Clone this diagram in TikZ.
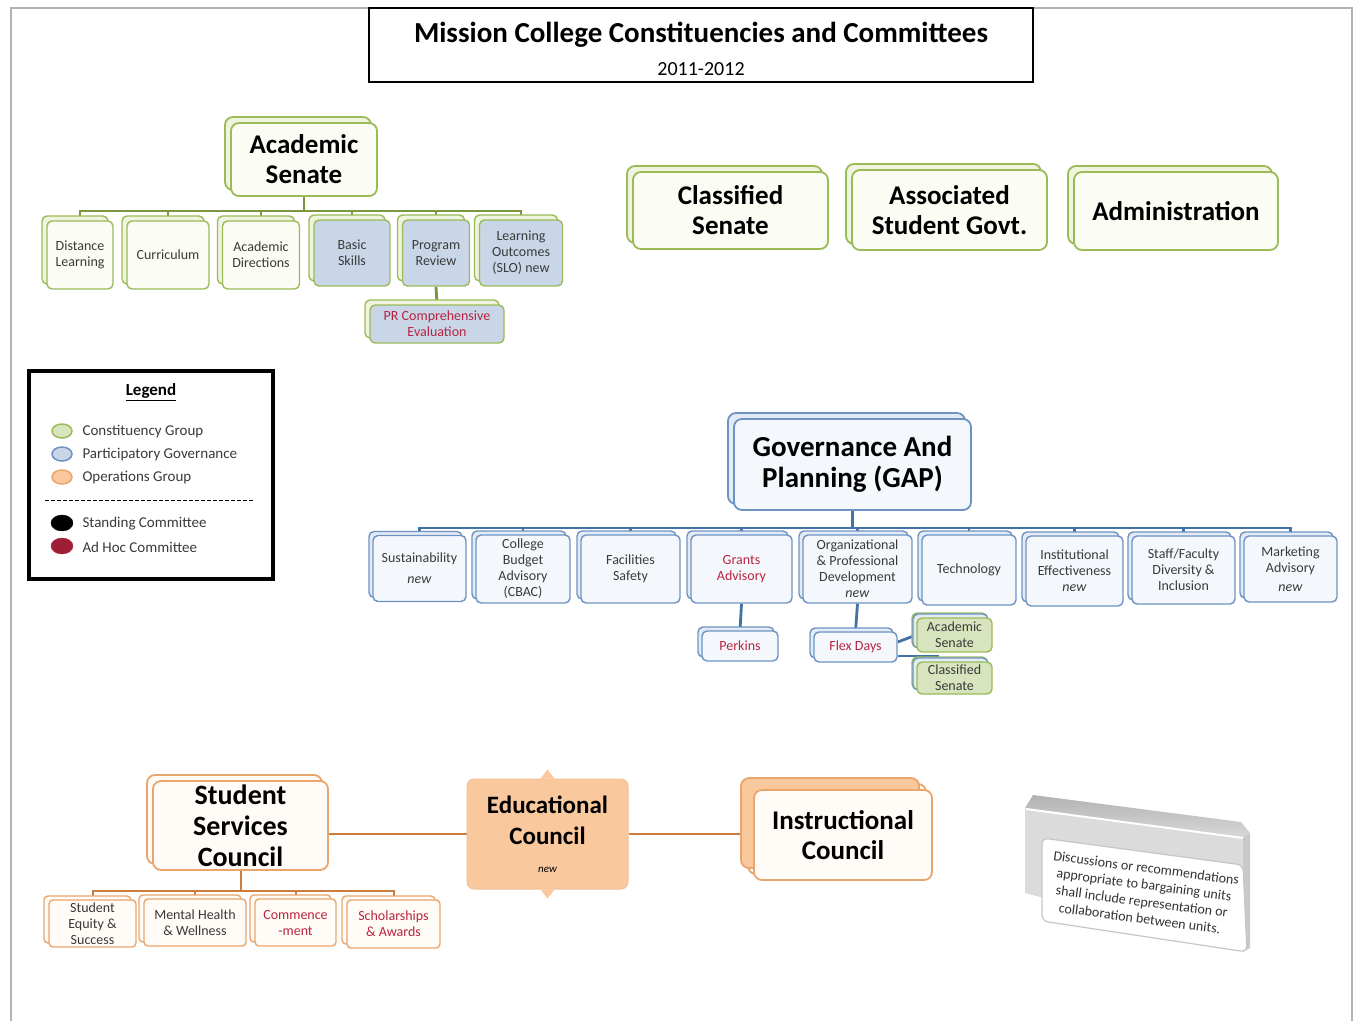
\documentclass[tikz,border=0pt]{standalone}
\usepackage{fontspec}
\setmainfont{Carlito}
\usetikzlibrary{shadows, backgrounds}
\definecolor{constgreen}{HTML}{9BBB59}
\definecolor{constline}{HTML}{7A963E}
\definecolor{constfill}{HTML}{FBFCF4}
\definecolor{constback}{HTML}{EEF4DE}
\definecolor{senatefill}{HTML}{D7E4BD}
\definecolor{govblue}{HTML}{6E93C2}
\definecolor{govline}{HTML}{4372A6}
\definecolor{govfill}{HTML}{F4F8FC}
\definecolor{govback}{HTML}{E3ECF6}
\definecolor{skillfill}{HTML}{C8D6E7}
\definecolor{opsorange}{HTML}{E9A66C}
\definecolor{opsline}{HTML}{CC7C3C}
\definecolor{opsfill}{HTML}{FFFBF6}
\definecolor{opspeach}{HTML}{FAC89D}
\definecolor{adhocred}{HTML}{B8243F}
\definecolor{inktext}{HTML}{3A3A3A}

\newcommand{\titlefont}{\fontsize{29}{32}\selectfont\bfseries}
\newcommand{\bigunitfont}{\fontsize{27}{30}\selectfont\bfseries}
\newcommand{\subunitfont}{\fontsize{14}{16}\selectfont}
\newcommand{\legendfont}{\fontsize{15}{18}\selectfont}

\tikzset{
  unit/.style={draw, align=center, inner sep=1pt, text=black},
  % constituency groups (green)
  constgroup/.style={unit, rounded corners=8pt, draw=constgreen, line width=1.8pt, fill=constfill,
    font=\bigunitfont,
    copy shadow={shadow xshift=-6pt, shadow yshift=6pt, draw=constgreen, line width=1.8pt, fill=constback}},
  constsub/.style={unit, rounded corners=5pt, draw=constgreen, line width=1.4pt, fill=constfill,
    font=\subunitfont, text=inktext,
    copy shadow={shadow xshift=-5pt, shadow yshift=5pt, draw=constgreen, line width=1.4pt, fill=constback}},
  skillsub/.style={constsub, fill=skillfill},
  senatesub/.style={constsub, fill=senatefill, copy shadow={shadow xshift=-4pt, shadow yshift=4pt, draw=govblue, line width=1.4pt, fill=govback}},
  % participatory governance (blue)
  govgroup/.style={unit, rounded corners=8pt, draw=govblue, line width=1.8pt, fill=govfill,
    font=\fontsize{29}{31}\selectfont\bfseries,
    copy shadow={shadow xshift=-6pt, shadow yshift=6pt, draw=govblue, line width=1.8pt, fill=govback}},
  govsub/.style={unit, rounded corners=5pt, draw=govblue, line width=1.4pt, fill=govfill,
    font=\subunitfont, text=inktext,
    copy shadow={shadow xshift=-4pt, shadow yshift=4pt, draw=govblue, line width=1.4pt, fill=govback}},
  % operations groups (orange)
  opsgroup/.style={unit, rounded corners=8pt, draw=opsorange, line width=1.8pt, fill=opsfill,
    font=\fontsize{28}{31}\selectfont\bfseries,
    copy shadow={shadow xshift=-6pt, shadow yshift=6pt, draw=opsorange, line width=1.8pt, fill=opsfill}},
  opssub/.style={unit, rounded corners=4pt, draw=opsorange, line width=1.4pt, fill=opsfill,
    font=\subunitfont, text=inktext,
    copy shadow={shadow xshift=-5pt, shadow yshift=4pt, draw=opsorange, line width=1.4pt, fill=opsfill}},
  adhoc/.style={text=adhocred},
  constconn/.style={draw=constline, line width=2.8pt},
  govconn/.style={draw=govline, line width=2.8pt},
  opsconn/.style={draw=opsline, line width=2pt},
  frame/.style={draw=gray!60, line width=2pt},
}

\begin{document}
\begin{tikzpicture}[x=1pt, y=-1pt]
  \useasboundingbox (0,0) rectangle (1359,1021);

  % page frame, open at the bottom
  \draw[frame] (11,1021) -- (11,8) -- (1352,8) -- (1352,1021);

  % title block
  \node[draw, line width=2pt, minimum width=664, minimum height=74] (titlebox) at (701,45) {};
  \node[font=\titlefont] (title) at (701,35) {Mission College Constituencies and Committees};
  \node[font=\fontsize{20}{22}\selectfont] (year) at (701,69) {2011-2012};

  % Academic Senate and its committees
  \node[constgroup, minimum width=146, minimum height=73] (acsen) at (304,159.5) {Academic\\Senate};
  \node[constsub, minimum width=66, minimum height=68] (distance) at (80,255) {Distance\\Learning};
  \node[constsub, minimum width=82, minimum height=68] (curric) at (168,255) {Curriculum};
  \node[constsub, minimum width=77, minimum height=68] (acdir) at (261,255) {Academic\\Directions};
  \node[skillsub, minimum width=76, minimum height=66] (basic) at (352,253) {Basic\\Skills};
  \node[skillsub, minimum width=67, minimum height=66] (progrev) at (436,253) {Program\\Review};
  \node[skillsub, minimum width=83, minimum height=66] (slo) at (521,253) {Learning\\Outcomes\\(SLO) new};
  \node[skillsub, adhoc, minimum width=134, minimum height=38] (prcomp) at (437,324) {PR Comprehensive\\Evaluation};

  % the other constituencies
  \node[constgroup, minimum width=195, minimum height=77] (classen) at (730.5,210.5) {Classified\\Senate};
  \node[constgroup, minimum width=195, minimum height=80] (asg) at (949.5,210) {Associated\\Student Govt.};
  \node[constgroup, minimum width=204, minimum height=78] (admin) at (1176,211) {Administration};

  % legend
  \node[draw, line width=4pt, minimum width=244, minimum height=208] (legend) at (151,475) {};
  \node[font=\fontsize{17}{20}\selectfont\bfseries] (legendhead) at (151,392) {\underline{Legend}};
  \draw[draw=constgreen, fill=senatefill, line width=1.5pt] (62,431) ellipse (10pt and 7pt);
  \draw[draw=govblue, fill=skillfill, line width=1.5pt] (62,454) ellipse (10pt and 7pt);
  \draw[draw=opsorange, fill=opspeach, line width=1.5pt] (62,477) ellipse (10pt and 7pt);
  \draw[fill=black] (62,523) ellipse (11pt and 8pt);
  \draw[draw=adhocred, fill=adhocred!85!black] (62,546) ellipse (11pt and 8pt);
  \node[anchor=west, font=\legendfont, text=inktext] (legconst) at (79,432) {Constituency Group};
  \node[anchor=west, font=\legendfont, text=inktext] (leggov) at (79,455) {Participatory Governance};
  \node[anchor=west, font=\legendfont, text=inktext] (legops) at (79,478) {Operations Group};
  \draw[dash pattern=on 4pt off 2pt, line width=1pt] (45,500) -- (254,500);
  \node[anchor=west, font=\legendfont, text=inktext] (legstand) at (79,524) {Standing Committee};
  \node[anchor=west, font=\legendfont, text=inktext] (legadhoc) at (79,547) {Ad Hoc Committee};

  % Governance And Planning and its committees
  \node[govgroup, minimum width=237, minimum height=91] (gap) at (852.5,464.5) {Governance And\\Planning (GAP)};
  \node[govsub, minimum width=93, minimum height=66] (sustain) at (419.5,568.5) {Sustainability\\[5pt]\textit{new}};
  \node[govsub, minimum width=94, minimum height=68] (cbac) at (523,569) {College\\Budget\\Advisory\\(CBAC)};
  \node[govsub, minimum width=99, minimum height=68] (facil) at (630.5,569) {Facilities\\Safety};
  \node[govsub, adhoc, minimum width=101, minimum height=68] (grants) at (741.5,569) {Grants\\Advisory};
  \node[govsub, minimum width=109, minimum height=68] (orgdev) at (857.5,569) {Organizational\\\& Professional\\Development\\\textit{new}};
  \node[govsub, minimum width=94, minimum height=70] (tech) at (969,570) {Technology};
  \node[govsub, minimum width=97, minimum height=70] (insteff) at (1074.5,571) {Institutional\\Effectiveness\\\textit{new}};
  \node[govsub, minimum width=103, minimum height=68] (diversity) at (1183.5,570) {Staff/Faculty\\Diversity \&\\Inclusion};
  \node[govsub, minimum width=93, minimum height=66] (market) at (1290.5,569) {Marketing\\Advisory\\[3pt]\textit{new}};
  \node[govsub, adhoc, minimum width=76, minimum height=30] (perkins) at (740,646) {Perkins};
  \node[govsub, adhoc, minimum width=83, minimum height=30] (flex) at (855.5,647) {Flex Days};
  \node[senatesub, minimum width=75, minimum height=34] (flexacsen) at (954.5,635) {Academic\\Senate};
  \node[senatesub, minimum width=75, minimum height=32] (flexclsen) at (954.5,678) {Classified\\Senate};

  % Student Services, Educational and Instructional Councils
  \node[opsgroup, minimum width=175, minimum height=89] (ssc) at (240.5,825.5) {Student\\Services\\Council};
  \node[opssub, minimum width=87, minimum height=47] (equity) at (92.5,923.5) {Student\\Equity \&\\Success};
  \node[opssub, minimum width=102, minimum height=47] (mental) at (195,922.5) {Mental Health\\\& Wellness};
  \node[opssub, adhoc, minimum width=81, minimum height=47] (commence) at (295.5,922.5) {Commence\\-ment};
  \node[opssub, adhoc, minimum width=93, minimum height=48] (scholar) at (393.5,924) {Scholarships\\\& Awards};
  \node[unit, rounded corners=7pt, draw=opsorange!70, line width=1pt, fill=opspeach,
    minimum width=161, minimum height=110, font=\fontsize{25}{31}\selectfont\bfseries] (edu) at (547.5,834)
    {Educational\\Council\\[-3pt]{\fontsize{11}{12}\selectfont\mdseries\itshape new}};
  \fill[opspeach] ([xshift=-7pt]edu.north) -- ([yshift=9pt]edu.north) -- ([xshift=7pt]edu.north) -- cycle;
  \fill[opspeach] ([xshift=-7pt]edu.south) -- ([yshift=-9pt]edu.south) -- ([xshift=7pt]edu.south) -- cycle;
  \node[opsgroup, font=\fontsize{27}{30}\selectfont\bfseries, minimum width=178, minimum height=90,
    copy shadow={shadow xshift=-13pt, shadow yshift=12pt, draw=opsorange, line width=1.8pt, fill=opspeach}] (instr) at (843,835) {Instructional\\Council};

  % bargaining units note
  \fill[gray!28] (1025,808) -- (1243,838) -- (1243,950) -- (1025,893) -- cycle;
  \shade[top color=gray!60, bottom color=gray!30] (1025,808) -- (1033,795) -- (1241,822) -- (1250,833) -- (1243,838) -- cycle;
  \draw[white, line width=2pt] (1026,809) -- (1243,838);
  \fill[gray!42] (1243,838) -- (1250,833) -- (1250,948) -- (1243,952) -- cycle;
  \draw[draw=gray!45, fill=white, line width=1.2pt, rounded corners=6pt]
    (1042,838) -- (1243,865) -- (1247,952) -- (1042,921) -- cycle;
  \node[rotate=-7.5, align=center, font=\fontsize{14}{17}\selectfont, text=black!80] (note) at (1143,893)
    {Discussions or recommendations\\appropriate to bargaining units\\shall include representation or\\collaboration between units.};

  % connectors, kept behind the boxes
  \begin{scope}[on background layer]
    \foreach \c in {distance, curric, acdir, basic, progrev, slo}
      \draw[constconn] (acsen.south) -- ++(0,14) -| (\c.north);
    \draw[constconn] (progrev.south) -- (prcomp.north);
    \foreach \c in {sustain, cbac, facil, grants, orgdev, tech, insteff, diversity, market}
      \draw[govconn] (gap.south) -- ++(0,17) -| (\c.north);
    \draw[govconn] (grants.south) -- (perkins.north);
    \draw[govconn] (orgdev.south) -- (flex.north);
    \draw[govconn] ([yshift=5pt]flex.east) -- (flexacsen.west);
    \draw[govconn] ([yshift=-9pt]flex.east) -| ([xshift=-17pt]flexclsen.north);
    \foreach \c in {equity, mental, commence, scholar}
      \draw[opsconn] (ssc.south) -- ++(0,20) -| (\c.north);
    \draw[opsconn] (edu.west) -- (edu.west -| ssc.east);
    \draw[opsconn] (edu.east) -- (edu.east -| instr.west);
  \end{scope}
\end{tikzpicture}
\end{document}
